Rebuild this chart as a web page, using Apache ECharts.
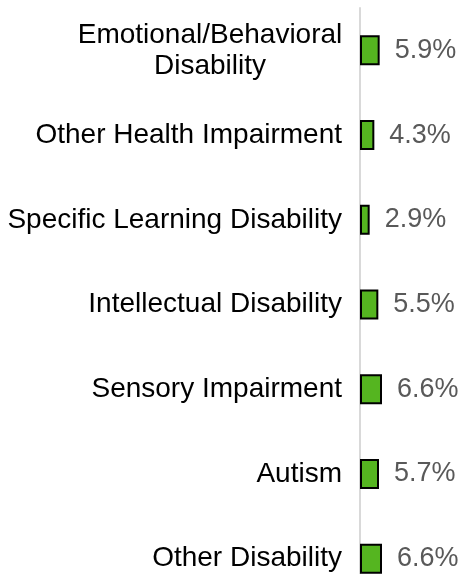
<!DOCTYPE html>
<html>
<head>
<meta charset="utf-8">
<script src="https://cdn.jsdelivr.net/npm/echarts@6/dist/echarts.min.js"></script>
<style>html,body{margin:0;padding:0;background:#fff}#c{width:464px;height:574px}</style>
</head>
<body>
<div id="c"></div>
<script>
const categories = [
  "Emotional/Behavioral\nDisability",
  "Other Health Impairment",
  "Specific Learning Disability",
  "Intellectual Disability",
  "Sensory Impairment",
  "Autism",
  "Other Disability"
];
const values = [5.9, 4.3, 2.9, 5.5, 6.6, 5.7, 6.6];

const chart = echarts.init(document.getElementById('c'));
chart.setOption({
  animation: false,
  grid: { left: 360, right: 4, top: 8, height: 593, containLabel: false, outerBoundsMode: 'none' },
  xAxis: {
    type: 'value', min: 0, max: 30, show: false
  },
  yAxis: {
    type: 'category', data: categories, inverse: true,
    axisLine: { show: true, lineStyle: { color: '#d9d9d9', width: 2 } },
    axisTick: { show: false },
    axisLabel: {
      color: '#000', fontFamily: 'Liberation Sans, Arial, sans-serif',
      fontSize: 28, margin: 18, align: 'right', lineHeight: 31,
      formatter: v => v.indexOf('\n') >= 0
        ? v.split('\n').map(s => '{c|' + s + '}').join('\n')
        : v,
      rich: {
        c: { width: 264, align: 'center', fontSize: 28, lineHeight: 31,
             fontFamily: 'Liberation Sans, Arial, sans-serif', color: '#000' }
      }
    }
  },
  series: [{
    type: 'bar', data: values, barWidth: 30,
    itemStyle: { color: '#55B520', borderColor: '#000', borderWidth: 2 },
    label: {
      show: true, position: 'right', distance: 15,
      color: '#595959', fontSize: 27, fontFamily: 'Liberation Sans, Arial, sans-serif',
      formatter: p => p.value.toFixed(1) + '%'
    }
  }]
});
</script>
</body>
</html>
